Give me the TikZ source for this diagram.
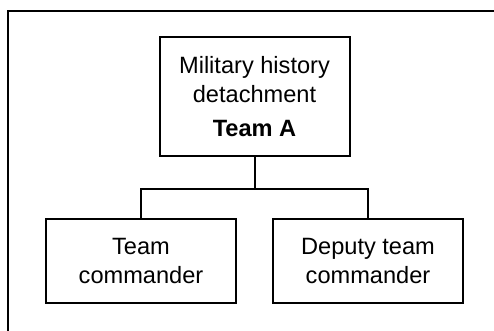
\documentclass[tikz,border=0pt]{standalone}
\usepackage{fontspec}
\setmainfont{Liberation Sans}
\usetikzlibrary{positioning}

\begin{document}
\begin{tikzpicture}[x=1pt, y=-1pt,
    unitbox/.style={draw, line width=2pt, align=center, inner sep=0pt,
      minimum width=190pt, font=\fontsize{23.6}{29}\selectfont},
    link/.style={line width=2pt}]
    % Page area and outer frame
    \useasboundingbox (0,0) rectangle (494,330);
    \draw[line width=2.2pt] (8,331) -- (8,11) -- (495,11);

    % Units
    \node[unitbox, minimum height=119pt] (detachment) at (254.5,96.5)
      {Military history\\detachment\\[5pt]\textbf{Team A}};
    \node[unitbox, minimum height=84pt] (commander) at (141,261)
      {Team\\commander};
    \node[unitbox, minimum height=84pt] (deputy) at (368,261)
      {Deputy team\\commander};

    % Connectors
    \coordinate (bus) at (254.5,189);
    \draw[link] (detachment.south) -- (bus);
    \draw[link] (commander.north) |- (bus) -| (deputy.north);
\end{tikzpicture}
\end{document}
